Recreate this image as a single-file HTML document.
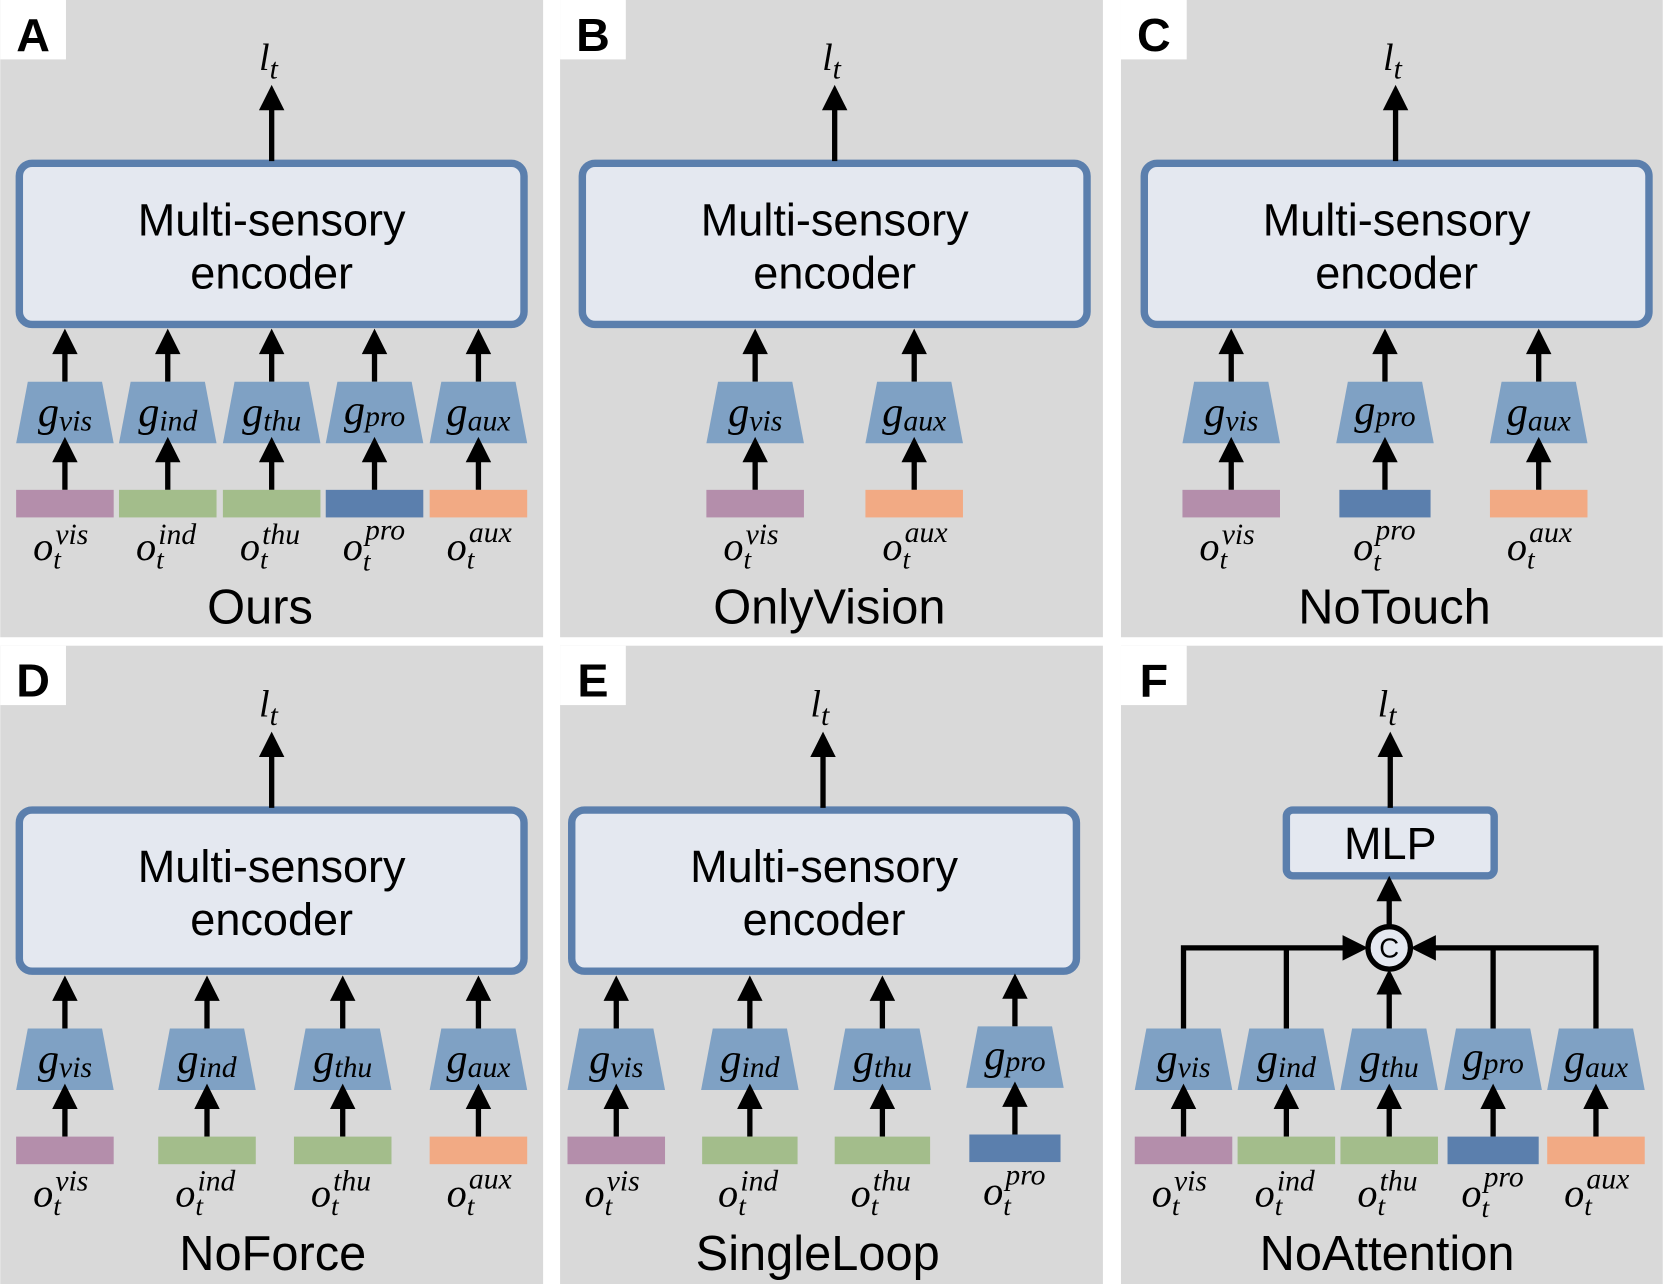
<!DOCTYPE html>
<html><head><meta charset="utf-8"><style>
html,body{margin:0;padding:0;background:#fff}
svg{display:block}
.m{font-family:"Liberation Serif",serif;font-style:italic;fill:#000}
.s{font-family:"Liberation Sans",sans-serif;fill:#000}
</style></head><body>
<svg width="1663" height="1284" viewBox="0 0 1568 1211" xmlns="http://www.w3.org/2000/svg">
<defs>
<g id="up"><line x1="0" y1="0" x2="0" y2="-28" stroke="#000" stroke-width="5"/><polygon points="-12,-26 12,-26 0,-50" fill="#000"/></g>
<g id="up2"><line x1="0" y1="0" x2="0" y2="-50" stroke="#000" stroke-width="5"/><polygon points="-12,-48 12,-48 0,-72" fill="#000"/></g>
<polygon id="trap" points="-35,0 35,0 46,58 -46,58" fill="#7fa1c4"/>
</defs>
<rect width="1568" height="1211" fill="#fff"/>
<rect x="0" y="0" width="512" height="601" fill="#d9d9d9"/>
<rect x="528" y="0" width="512" height="601" fill="#d9d9d9"/>
<rect x="1057" y="0" width="511" height="601" fill="#d9d9d9"/>
<rect x="0" y="609" width="512" height="602" fill="#d9d9d9"/>
<rect x="528" y="609" width="512" height="602" fill="#d9d9d9"/>
<rect x="1057" y="609" width="511" height="602" fill="#d9d9d9"/>
<g class="s" font-size="44" font-weight="bold" text-anchor="middle">
<rect x="0" y="0" width="62" height="56" fill="#fff"/><text x="31" y="48">A</text>
<rect x="528" y="0" width="62" height="56" fill="#fff"/><text x="559" y="48">B</text>
<rect x="1057" y="0" width="62" height="56" fill="#fff"/><text x="1088" y="48">C</text>
<rect x="0" y="609" width="62" height="56" fill="#fff"/><text x="31" y="657">D</text>
<rect x="528" y="609" width="62" height="56" fill="#fff"/><text x="559" y="657">E</text>
<rect x="1057" y="609" width="62" height="56" fill="#fff"/><text x="1088" y="657">F</text>
</g>
<g fill="#e4e8f0" stroke="#5b7fad" stroke-width="7">
<rect x="18" y="154" width="476" height="152" rx="12"/>
<rect x="549" y="154" width="476" height="152" rx="12"/>
<rect x="1079" y="154" width="476" height="152" rx="12"/>
<rect x="18" y="764" width="476" height="152" rx="12"/>
<rect x="539" y="764" width="476" height="152" rx="12"/>
<rect x="1213" y="764" width="196" height="62" rx="6"/>
</g>
<g class="s" font-size="42.5" text-anchor="middle">
<text x="256" y="222">Multi-sensory</text><text x="256" y="272">encoder</text>
<text x="787" y="222">Multi-sensory</text><text x="787" y="272">encoder</text>
<text x="1317" y="222">Multi-sensory</text><text x="1317" y="272">encoder</text>
<text x="256" y="832">Multi-sensory</text><text x="256" y="882">encoder</text>
<text x="777" y="832">Multi-sensory</text><text x="777" y="882">encoder</text>
<text x="1311" y="810">MLP</text>
</g>
<g class="s" font-size="46" text-anchor="middle">
<text x="245" y="588">Ours</text>
<text x="782" y="588">OnlyVision</text>
<text x="1315" y="588">NoTouch</text>
<text x="257" y="1198">NoForce</text>
<text x="771" y="1198">SingleLoop</text>
<text x="1308" y="1198">NoAttention</text>
</g>
<use href="#up2" x="256" y="152"/><use href="#up2" x="787" y="152"/><use href="#up2" x="1316" y="152"/>
<use href="#up2" x="256" y="762"/><use href="#up2" x="776" y="762"/><use href="#up2" x="1311" y="762"/>
<g class="m" font-size="36" text-anchor="middle">
<text x="253" y="66">l<tspan font-size="28" dy="8">t</tspan></text>
<text x="784" y="66">l<tspan font-size="28" dy="8">t</tspan></text>
<text x="1313" y="66">l<tspan font-size="28" dy="8">t</tspan></text>
<text x="253" y="676">l<tspan font-size="28" dy="8">t</tspan></text>
<text x="773" y="676">l<tspan font-size="28" dy="8">t</tspan></text>
<text x="1308" y="676">l<tspan font-size="28" dy="8">t</tspan></text>
</g>

<g>
<g transform="translate(61,0)"><use href="#up" y="360"/><use href="#trap" y="360"/><use href="#up" y="462"/><rect x="-46" y="462" width="92" height="26" fill="#b48eab"/>
<text class="m" x="0" y="402" text-anchor="middle" font-size="40">g<tspan font-size="28" dy="4">vis</tspan></text>
<text class="m" x="-30" y="528" font-size="38">o</text><text class="m" x="-9" y="513" font-size="28">vis</text><text class="m" x="-11" y="536" font-size="26">t</text></g>
<g transform="translate(158,0)"><use href="#up" y="360"/><use href="#trap" y="360"/><use href="#up" y="462"/><rect x="-46" y="462" width="92" height="26" fill="#a3bd8b"/>
<text class="m" x="0" y="402" text-anchor="middle" font-size="40">g<tspan font-size="28" dy="4">ind</tspan></text>
<text class="m" x="-30" y="528" font-size="38">o</text><text class="m" x="-9" y="513" font-size="28">ind</text><text class="m" x="-11" y="536" font-size="26">t</text></g>
<g transform="translate(256,0)"><use href="#up" y="360"/><use href="#trap" y="360"/><use href="#up" y="462"/><rect x="-46" y="462" width="92" height="26" fill="#a3bd8b"/>
<text class="m" x="0" y="402" text-anchor="middle" font-size="40">g<tspan font-size="28" dy="4">thu</tspan></text>
<text class="m" x="-30" y="528" font-size="38">o</text><text class="m" x="-9" y="513" font-size="28">thu</text><text class="m" x="-11" y="536" font-size="26">t</text></g>
<g transform="translate(353,0)"><use href="#up" y="360"/><use href="#trap" y="360"/><use href="#up" y="462"/><rect x="-46" y="462" width="92" height="26" fill="#5b7fad"/>
<text class="m" x="0" y="400" text-anchor="middle" font-size="40">g<tspan font-size="28" dy="2">pro</tspan></text>
<text class="m" x="-30" y="528" font-size="38">o</text><text class="m" x="-9" y="509" font-size="28">pro</text><text class="m" x="-11" y="538" font-size="26">t</text></g>
<g transform="translate(451,0)"><use href="#up" y="360"/><use href="#trap" y="360"/><use href="#up" y="462"/><rect x="-46" y="462" width="92" height="26" fill="#f2aa84"/>
<text class="m" x="0" y="402" text-anchor="middle" font-size="40">g<tspan font-size="28" dy="4">aux</tspan></text>
<text class="m" x="-30" y="528" font-size="38">o</text><text class="m" x="-9" y="511" font-size="28">aux</text><text class="m" x="-11" y="536" font-size="26">t</text></g>
<g transform="translate(712,0)"><use href="#up" y="360"/><use href="#trap" y="360"/><use href="#up" y="462"/><rect x="-46" y="462" width="92" height="26" fill="#b48eab"/>
<text class="m" x="0" y="402" text-anchor="middle" font-size="40">g<tspan font-size="28" dy="4">vis</tspan></text>
<text class="m" x="-30" y="528" font-size="38">o</text><text class="m" x="-9" y="513" font-size="28">vis</text><text class="m" x="-11" y="536" font-size="26">t</text></g>
<g transform="translate(862,0)"><use href="#up" y="360"/><use href="#trap" y="360"/><use href="#up" y="462"/><rect x="-46" y="462" width="92" height="26" fill="#f2aa84"/>
<text class="m" x="0" y="402" text-anchor="middle" font-size="40">g<tspan font-size="28" dy="4">aux</tspan></text>
<text class="m" x="-30" y="528" font-size="38">o</text><text class="m" x="-9" y="511" font-size="28">aux</text><text class="m" x="-11" y="536" font-size="26">t</text></g>
<g transform="translate(1161,0)"><use href="#up" y="360"/><use href="#trap" y="360"/><use href="#up" y="462"/><rect x="-46" y="462" width="92" height="26" fill="#b48eab"/>
<text class="m" x="0" y="402" text-anchor="middle" font-size="40">g<tspan font-size="28" dy="4">vis</tspan></text>
<text class="m" x="-30" y="528" font-size="38">o</text><text class="m" x="-9" y="513" font-size="28">vis</text><text class="m" x="-11" y="536" font-size="26">t</text></g>
<g transform="translate(1306,0)"><use href="#up" y="360"/><use href="#trap" y="360"/><use href="#up" y="462"/><rect x="-43" y="462" width="86" height="26" fill="#5b7fad"/>
<text class="m" x="0" y="400" text-anchor="middle" font-size="40">g<tspan font-size="28" dy="2">pro</tspan></text>
<text class="m" x="-30" y="528" font-size="38">o</text><text class="m" x="-9" y="509" font-size="28">pro</text><text class="m" x="-11" y="538" font-size="26">t</text></g>
<g transform="translate(1451,0)"><use href="#up" y="360"/><use href="#trap" y="360"/><use href="#up" y="462"/><rect x="-46" y="462" width="92" height="26" fill="#f2aa84"/>
<text class="m" x="0" y="402" text-anchor="middle" font-size="40">g<tspan font-size="28" dy="4">aux</tspan></text>
<text class="m" x="-30" y="528" font-size="38">o</text><text class="m" x="-9" y="511" font-size="28">aux</text><text class="m" x="-11" y="536" font-size="26">t</text></g>
</g>

<g transform="translate(0,610)">
<g transform="translate(61,0)"><use href="#up" y="360"/><use href="#trap" y="360"/><use href="#up" y="462"/><rect x="-46" y="462" width="92" height="26" fill="#b48eab"/>
<text class="m" x="0" y="402" text-anchor="middle" font-size="40">g<tspan font-size="28" dy="4">vis</tspan></text>
<text class="m" x="-30" y="528" font-size="38">o</text><text class="m" x="-9" y="513" font-size="28">vis</text><text class="m" x="-11" y="536" font-size="26">t</text></g>
<g transform="translate(195,0)"><use href="#up" y="360"/><use href="#trap" y="360"/><use href="#up" y="462"/><rect x="-46" y="462" width="92" height="26" fill="#a3bd8b"/>
<text class="m" x="0" y="402" text-anchor="middle" font-size="40">g<tspan font-size="28" dy="4">ind</tspan></text>
<text class="m" x="-30" y="528" font-size="38">o</text><text class="m" x="-9" y="513" font-size="28">ind</text><text class="m" x="-11" y="536" font-size="26">t</text></g>
<g transform="translate(323,0)"><use href="#up" y="360"/><use href="#trap" y="360"/><use href="#up" y="462"/><rect x="-46" y="462" width="92" height="26" fill="#a3bd8b"/>
<text class="m" x="0" y="402" text-anchor="middle" font-size="40">g<tspan font-size="28" dy="4">thu</tspan></text>
<text class="m" x="-30" y="528" font-size="38">o</text><text class="m" x="-9" y="513" font-size="28">thu</text><text class="m" x="-11" y="536" font-size="26">t</text></g>
<g transform="translate(451,0)"><use href="#up" y="360"/><use href="#trap" y="360"/><use href="#up" y="462"/><rect x="-46" y="462" width="92" height="26" fill="#f2aa84"/>
<text class="m" x="0" y="402" text-anchor="middle" font-size="40">g<tspan font-size="28" dy="4">aux</tspan></text>
<text class="m" x="-30" y="528" font-size="38">o</text><text class="m" x="-9" y="511" font-size="28">aux</text><text class="m" x="-11" y="536" font-size="26">t</text></g>
<g transform="translate(581,0)"><use href="#up" y="360"/><use href="#trap" y="360"/><use href="#up" y="462"/><rect x="-46" y="462" width="92" height="26" fill="#b48eab"/>
<text class="m" x="0" y="402" text-anchor="middle" font-size="40">g<tspan font-size="28" dy="4">vis</tspan></text>
<text class="m" x="-30" y="528" font-size="38">o</text><text class="m" x="-9" y="513" font-size="28">vis</text><text class="m" x="-11" y="536" font-size="26">t</text></g>
<g transform="translate(707,0)"><use href="#up" y="360"/><use href="#trap" y="360"/><use href="#up" y="462"/><rect x="-45" y="462" width="90" height="26" fill="#a3bd8b"/>
<text class="m" x="0" y="402" text-anchor="middle" font-size="40">g<tspan font-size="28" dy="4">ind</tspan></text>
<text class="m" x="-30" y="528" font-size="38">o</text><text class="m" x="-9" y="513" font-size="28">ind</text><text class="m" x="-11" y="536" font-size="26">t</text></g>
<g transform="translate(832,0)"><use href="#up" y="360"/><use href="#trap" y="360"/><use href="#up" y="462"/><rect x="-45" y="462" width="90" height="26" fill="#a3bd8b"/>
<text class="m" x="0" y="402" text-anchor="middle" font-size="40">g<tspan font-size="28" dy="4">thu</tspan></text>
<text class="m" x="-30" y="528" font-size="38">o</text><text class="m" x="-9" y="513" font-size="28">thu</text><text class="m" x="-11" y="536" font-size="26">t</text></g>
<g transform="translate(957,-2)"><use href="#up" y="360"/><use href="#trap" y="360"/><use href="#up" y="462"/><rect x="-43" y="462" width="86" height="26" fill="#5b7fad"/>
<text class="m" x="0" y="400" text-anchor="middle" font-size="40">g<tspan font-size="28" dy="2">pro</tspan></text>
<text class="m" x="-30" y="528" font-size="38">o</text><text class="m" x="-9" y="509" font-size="28">pro</text><text class="m" x="-11" y="538" font-size="26">t</text></g>
<g transform="translate(1116,0)"><use href="#trap" y="360"/><use href="#up" y="462"/><rect x="-46" y="462" width="92" height="26" fill="#b48eab"/>
<text class="m" x="0" y="402" text-anchor="middle" font-size="40">g<tspan font-size="28" dy="4">vis</tspan></text>
<text class="m" x="-30" y="528" font-size="38">o</text><text class="m" x="-9" y="513" font-size="28">vis</text><text class="m" x="-11" y="536" font-size="26">t</text></g>
<g transform="translate(1213,0)"><use href="#trap" y="360"/><use href="#up" y="462"/><rect x="-46" y="462" width="92" height="26" fill="#a3bd8b"/>
<text class="m" x="0" y="402" text-anchor="middle" font-size="40">g<tspan font-size="28" dy="4">ind</tspan></text>
<text class="m" x="-30" y="528" font-size="38">o</text><text class="m" x="-9" y="513" font-size="28">ind</text><text class="m" x="-11" y="536" font-size="26">t</text></g>
<g transform="translate(1310,0)"><use href="#trap" y="360"/><use href="#up" y="462"/><rect x="-46" y="462" width="92" height="26" fill="#a3bd8b"/>
<text class="m" x="0" y="402" text-anchor="middle" font-size="40">g<tspan font-size="28" dy="4">thu</tspan></text>
<text class="m" x="-30" y="528" font-size="38">o</text><text class="m" x="-9" y="513" font-size="28">thu</text><text class="m" x="-11" y="536" font-size="26">t</text></g>
<g transform="translate(1408,0)"><use href="#trap" y="360"/><use href="#up" y="462"/><rect x="-43" y="462" width="86" height="26" fill="#5b7fad"/>
<text class="m" x="0" y="400" text-anchor="middle" font-size="40">g<tspan font-size="28" dy="2">pro</tspan></text>
<text class="m" x="-30" y="528" font-size="38">o</text><text class="m" x="-9" y="509" font-size="28">pro</text><text class="m" x="-11" y="538" font-size="26">t</text></g>
<g transform="translate(1505,0)"><use href="#trap" y="360"/><use href="#up" y="462"/><rect x="-46" y="462" width="92" height="26" fill="#f2aa84"/>
<text class="m" x="0" y="402" text-anchor="middle" font-size="40">g<tspan font-size="28" dy="4">aux</tspan></text>
<text class="m" x="-30" y="528" font-size="38">o</text><text class="m" x="-9" y="511" font-size="28">aux</text><text class="m" x="-11" y="536" font-size="26">t</text></g>
</g>

<g stroke="#000" stroke-width="5" fill="none">
<polyline points="1116,970 1116,894 1270,894"/>
<line x1="1213" y1="970" x2="1213" y2="894"/>
<polyline points="1505,970 1505,894 1350,894"/>
<line x1="1408" y1="970" x2="1408" y2="894"/>
<line x1="1310" y1="970" x2="1310" y2="936"/>
<line x1="1310" y1="874" x2="1310" y2="848"/>
</g>
<g fill="#000">
<polygon points="1266,882 1266,906 1290,894"/>
<polygon points="1354,882 1354,906 1330,894"/>
<polygon points="1298,938 1322,938 1310,914"/>
<polygon points="1298,850 1322,850 1310,826"/>
</g>
<circle cx="1310" cy="894" r="20" fill="#e4e8f0" stroke="#000" stroke-width="5"/>
<text class="s" x="1310" y="903" font-size="26" text-anchor="middle">C</text>
</svg>
</body></html>
